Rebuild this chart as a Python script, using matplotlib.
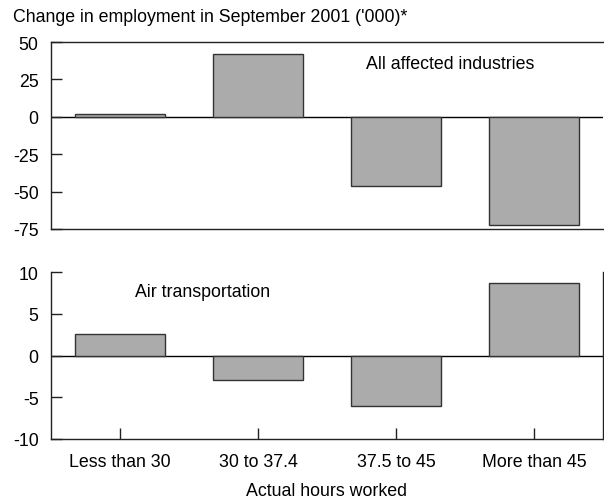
import matplotlib
matplotlib.use("Agg")
import matplotlib.pyplot as plt

plt.rcParams['font.family'] = ['Liberation Sans', 'DejaVu Sans']

categories = ["Less than 30", "30 to 37.4", "37.5 to 45", "More than 45"]
all_industries = [2, 42, -46.5, -72.5]
air_transport = [2.6, -2.9, -6.1, 8.7]

top_ticks = [50, 25, 0, -25, -50, -75]
bottom_ticks = [10, 5, 0, -5, -10]

face = "#ababab"
edge = "#333333"
fs = 12.8

fig = plt.figure(figsize=(6.04, 5.02), dpi=100)
ax1 = fig.add_axes([51/604, 1-230/502, (603-51)/604, (230-43)/502])
ax2 = fig.add_axes([51/604, 1-440/502, (603-51)/604, (440-273)/502])

x = range(len(categories))

def style(ax, ticks, lim):
    ax.set_xlim(-0.5, 3.5)
    ax.set_ylim(*lim)
    ax.set_yticks(ticks)
    ax.set_yticklabels([str(t) for t in ticks], fontsize=fs)
    ax.tick_params(axis='y', direction='in', length=8, width=1, pad=9, colors='#222222', labelcolor='black')
    ax.axhline(0, color='black', lw=1, zorder=1)
    for s in ax.spines.values():
        s.set_linewidth(1)
        s.set_color('#222222')

ax1.bar(x, all_industries, width=0.65, color=face, edgecolor=edge, linewidth=1, zorder=2)
style(ax1, top_ticks, (-75, 50))
ax1.spines['right'].set_visible(False)
ax1.set_xticks([])
ax1.text(2.39, 35.3, "All affected industries", fontsize=fs, ha='center', va='center')

ax2.bar(x, air_transport, width=0.65, color=face, edgecolor=edge, linewidth=1, zorder=2)
style(ax2, bottom_ticks, (-10, 10))
ax2.spines['top'].set_visible(False)
ax2.set_xticks(list(x))
ax2.set_xticklabels(categories, fontsize=fs)
ax2.tick_params(axis='x', direction='in', length=8, width=1, pad=10, colors='#222222', labelcolor='black')
ax2.text(0.60, 7.7, "Air transportation", fontsize=fs, ha='center', va='center')
ax2.set_xlabel("Actual hours worked", fontsize=fs, labelpad=9)

fig.text(13/604, 1-18/502, "Change in employment in September 2001 ('000)*", fontsize=fs, ha='left', va='center')

fig.savefig("out.png", dpi=100)
